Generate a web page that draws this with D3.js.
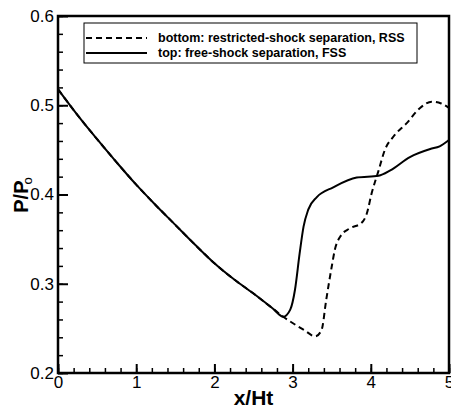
<!DOCTYPE html>
<html>
<head>
<meta charset="utf-8">
<script src="https://cdn.jsdelivr.net/npm/d3@7"></script>
<style>
  body { margin: 0; background: #fff; }
  svg { display: block; }
</style>
</head>
<body>
<div id="chart"></div>
<script>
// data: x/Ht and P/Po
// both cases share the same curve until separation at x/Ht ~ 2.9
const sharedX = [0, 0.25, 0.5, 0.75, 1, 1.25, 1.5, 1.75, 2, 2.25, 2.5, 2.75, 2.88];
const sharedP = [0.518, 0.489, 0.462, 0.436, 0.411, 0.388, 0.366, 0.344, 0.323, 0.305, 0.289, 0.272, 0.263];

// top wall: free-shock separation
const fssX = [2.97, 3.03, 3.09, 3.14, 3.2, 3.31, 3.52, 3.82, 4.1, 4.25, 4.5, 4.76, 4.88, 5.0];
const fssP = [0.271, 0.293, 0.334, 0.364, 0.383, 0.397, 0.408, 0.419, 0.421, 0.427, 0.442, 0.451, 0.454, 0.461];

// bottom wall: restricted-shock separation
const rssX = [3.0, 3.15, 3.29, 3.37, 3.43, 3.5, 3.54, 3.61, 3.73, 3.88, 3.95, 4.01, 4.1, 4.18, 4.29, 4.46, 4.63, 4.78, 4.9, 5.0];
const rssP = [0.256, 0.248, 0.241, 0.248, 0.282, 0.319, 0.338, 0.353, 0.362, 0.368, 0.379, 0.401, 0.427, 0.45, 0.465, 0.48, 0.497, 0.504, 0.502, 0.497];

const xTicks = [0, 1, 2, 3, 4, 5];
const yTicks = [0.2, 0.3, 0.4, 0.5, 0.6];

const legendLabels = [
  "bottom: restricted-shock separation, RSS",
  "top: free-shock separation, FSS"
];

const width = 451;
const height = 408;
const margin = { top: 16, right: 2, bottom: 35, left: 58 };
const font = "'Liberation Sans', Arial, Helvetica, sans-serif";

const x = d3.scaleLinear().domain([0, 5]).range([margin.left, width - margin.right]);
const y = d3.scaleLinear().domain([0.2, 0.6]).range([height - margin.bottom, margin.top]);

const svg = d3
  .select("#chart")
  .append("svg")
  .attr("width", width)
  .attr("height", height)
  .style("font-family", font);

// minor ticks
svg.append("g")
  .attr("transform", `translate(${margin.left},0)`)
  .call(d3.axisLeft(y).tickValues(d3.range(0.2, 0.6001, 0.02)).tickSize(-5).tickFormat(""))
  .call((g) => g.select(".domain").remove())
  .call((g) => g.selectAll("line").attr("stroke-width", 1.5));

svg.append("g")
  .attr("transform", `translate(0,${height - margin.bottom})`)
  .call(d3.axisBottom(x).tickValues(d3.range(0, 5.001, 0.2)).tickSize(-5).tickFormat(""))
  .call((g) => g.select(".domain").remove())
  .call((g) => g.selectAll("line").attr("stroke-width", 1.5));

// major ticks with labels
svg.append("g")
  .attr("transform", `translate(${margin.left},0)`)
  .call(d3.axisLeft(y).tickValues(yTicks).tickSize(-10).tickPadding(4).tickFormat(d3.format(".1f")))
  .call((g) => g.select(".domain").remove())
  .call((g) => g.selectAll("line").attr("stroke-width", 2))
  .call((g) => g.selectAll("text").attr("fill", "#000").style("font-size", "17px").style("font-family", font));

svg.append("g")
  .attr("transform", `translate(0,${height - margin.bottom})`)
  .call(d3.axisBottom(x).tickValues(xTicks).tickSize(-9).tickPadding(3).tickFormat(d3.format("d")))
  .call((g) => g.select(".domain").remove())
  .call((g) => g.selectAll("line").attr("stroke-width", 2))
  .call((g) => g.selectAll("text").attr("fill", "#000").style("font-size", "17px").style("font-family", font));

// curves
const line = d3
  .line()
  .x((d) => x(d[0]))
  .y((d) => y(d[1]))
  .curve(d3.curveMonotoneX);

const shared = d3.zip(sharedX, sharedP);
const rss = shared.concat(d3.zip(rssX, rssP));
const fss = shared.concat(d3.zip(fssX, fssP));

svg.append("path")
  .datum(rss)
  .attr("fill", "none")
  .attr("stroke", "#000")
  .attr("stroke-width", 2)
  .attr("stroke-dasharray", "6,4")
  .attr("d", line);

svg.append("path")
  .datum(fss)
  .attr("fill", "none")
  .attr("stroke", "#000")
  .attr("stroke-width", 2)
  .attr("d", line);

// plot frame
svg.append("rect")
  .attr("x", margin.left)
  .attr("y", margin.top)
  .attr("width", width - margin.right - margin.left)
  .attr("height", height - margin.bottom - margin.top)
  .attr("fill", "none")
  .attr("stroke", "#000")
  .attr("stroke-width", 2.5);

// legend
const legend = svg.append("g").attr("transform", "translate(84,23)");

legend.append("rect")
  .attr("width", 333)
  .attr("height", 40)
  .attr("fill", "#fff")
  .attr("stroke", "#000")
  .attr("stroke-width", 1);

legend.selectAll("line.key")
  .data(legendLabels)
  .enter()
  .append("line")
  .attr("class", "key")
  .attr("x1", 2)
  .attr("x2", 63)
  .attr("y1", (d, i) => 15 + i * 15)
  .attr("y2", (d, i) => 15 + i * 15)
  .attr("stroke", "#000")
  .attr("stroke-width", 2)
  .attr("stroke-dasharray", (d, i) => (i ? null : "6,4"));

legend.selectAll("text.key")
  .data(legendLabels)
  .enter()
  .append("text")
  .attr("class", "key")
  .attr("x", 74)
  .attr("y", (d, i) => 19 + i * 15)
  .style("font-size", "12.5px")
  .style("font-weight", "bold")
  .text((d) => d);

// axis titles
svg.append("text")
  .attr("x", (x(0) + x(5)) / 2)
  .attr("y", 405)
  .attr("text-anchor", "middle")
  .style("font-size", "21px")
  .style("font-weight", "bold")
  .text("x/Ht");

const yTitle = svg.append("text")
  .attr("transform", "translate(28,195) rotate(-90)")
  .attr("text-anchor", "middle")
  .style("font-size", "20px")
  .style("font-weight", "bold");
yTitle.append("tspan").text("P/P");
yTitle.append("tspan")
  .attr("dx", -4)
  .attr("dy", 4)
  .style("font-size", "13px")
  .style("font-weight", "normal")
  .text("o");
</script>
</body>
</html>
